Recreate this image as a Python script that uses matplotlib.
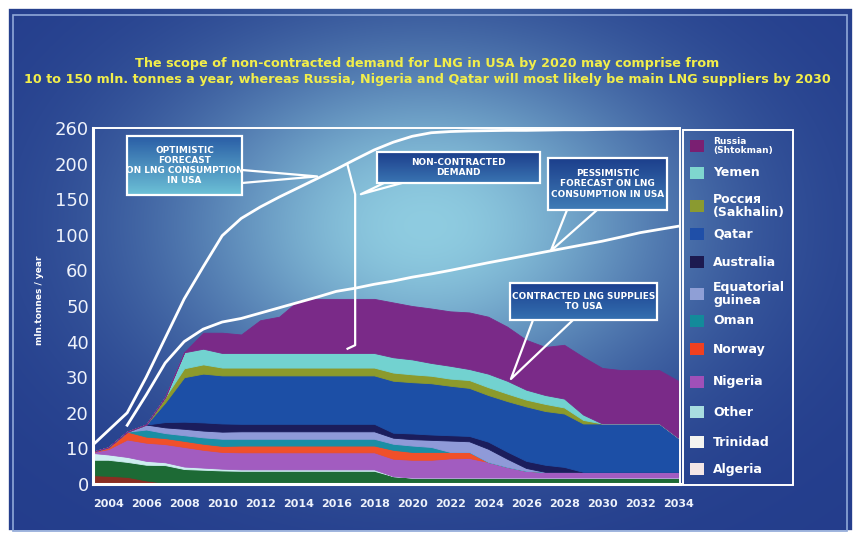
import numpy as np
import matplotlib
matplotlib.use("Agg")
import matplotlib.pyplot as plt
from matplotlib.patches import Rectangle
from matplotlib.colors import to_rgb

W, H = 860, 538

years = np.arange(2003, 2035)

# contracted LNG supplies to USA, mln tonnes / year, stacked bottom -> top
algeria   = [2.5, 2.3, 2.0, 1.0, 0.3, 0, 0, 0, 0, 0, 0, 0, 0, 0, 0, 0,
             0, 0, 0, 0, 0, 0, 0, 0, 0, 0, 0, 0, 0, 0, 0, 0]
trinidad  = [4.3, 4.5, 4.2, 4.4, 5.0, 4.2, 4.0, 3.8, 3.7, 3.7, 3.7, 3.7, 3.7, 3.7, 3.7, 3.7,
             2.2, 1.8, 1.8, 1.8, 1.8, 1.8, 1.8, 1.8, 1.8, 1.8, 1.8, 1.8, 1.8, 1.8, 1.8, 1.8]
other     = [2.0, 1.5, 1.4, 1.1, 0.8, 0.7, 0.6, 0.5, 0.4, 0.4, 0.4, 0.4, 0.4, 0.4, 0.4, 0.4,
             0, 0, 0, 0, 0, 0, 0, 0, 0, 0, 0, 0, 0, 0, 0, 0]
nigeria   = [0, 1.5, 4.9, 5.1, 5.1, 5.5, 5.0, 4.7, 4.8, 4.8, 4.8, 4.8, 4.8, 4.8, 4.8, 4.8,
             4.9, 5.0, 5.0, 5.4, 5.5, 4.4, 3.0, 1.9, 1.6, 1.6, 1.6, 1.6, 1.6, 1.6, 1.6, 1.6]
norway    = [0, 0.5, 2.2, 1.7, 1.7, 1.7, 1.7, 1.7, 1.9, 1.9, 1.9, 1.9, 1.9, 1.9, 1.9, 1.9,
             2.5, 2.2, 2.2, 1.8, 1.7, 0, 0, 0, 0, 0, 0, 0, 0, 0, 0, 0]
oman      = [0, 0, 0, 2.0, 1.4, 1.6, 1.8, 2.0, 1.9, 1.9, 1.9, 1.9, 1.9, 1.9, 1.9, 1.9,
             1.7, 1.8, 1.4, 0, 0, 0, 0, 0, 0, 0, 0, 0, 0, 0, 0, 0]
eq_guinea = [0, 0, 0, 1.4, 1.6, 1.8, 1.9, 2.0, 2.1, 2.1, 2.1, 2.1, 2.1, 2.1, 2.1, 2.1,
             1.7, 1.8, 2.0, 3.2, 3.0, 3.7, 2.3, 0.8, 0, 0, 0, 0, 0, 0, 0, 0]
australia = [0, 0, 0, 0, 1.5, 2.0, 2.3, 2.3, 2.1, 2.1, 2.1, 2.1, 2.1, 2.1, 2.1, 2.1,
             1.4, 1.6, 1.5, 1.5, 1.5, 2.0, 2.0, 2.0, 2.0, 1.4, 0, 0, 0, 0, 0, 0]
qatar     = [0, 0, 0, 0, 5.5, 12.5, 13.7, 13.5, 13.6, 13.6, 13.6, 13.6, 13.6, 13.6, 13.6, 13.6,
             14.6, 14.4, 14.4, 13.9, 13.5, 13.1, 14.2, 15.3, 15.1, 15.0, 13.6, 13.6, 13.6, 13.6, 13.6, 9.6]
sakhalin  = [0, 0, 0, 0, 1.5, 2.5, 2.6, 2.2, 2.2, 2.2, 2.2, 2.2, 2.2, 2.2, 2.2, 2.2,
             2.3, 2.2, 2.1, 2.0, 2.2, 2.2, 2.1, 1.9, 2.0, 1.7, 1.0, 0, 0, 0, 0, 0]
yemen     = [0, 0, 0, 0, 0, 4.5, 4.4, 4.1, 4.1, 4.1, 4.1, 4.1, 4.1, 4.1, 4.1, 4.1,
             4.3, 4.2, 3.6, 3.6, 3.1, 3.8, 3.6, 2.8, 2.5, 2.5, 1.5, 0, 0, 0, 0, 0]
shtokman  = [0, 0, 0, 0, 0, 0, 4.5, 5.7, 5.2, 9.2, 10.2, 14.7, 15.2, 15.2, 15.2, 15.2,
             15.4, 15.0, 15.3, 15.3, 15.9, 16.0, 15.2, 14.0, 13.5, 15.1, 16.2, 15.6, 15.0, 15.0, 15.0, 16.0]

# forecasts of LNG consumption in USA
optimistic  = [10, 15, 20, 30, 41, 52, 64, 99, 123, 139, 153, 166, 179, 192, 207, 223,
               236, 246, 252, 254, 255, 255.5, 256, 256, 256.5, 257, 257, 257.5, 258, 258, 258.5, 259]
pessimistic = [np.nan, np.nan, 16.5, 25, 34, 40, 43.5, 45.5, 46.5, 48, 49.5, 51, 52.5, 54.1, 55, 56.1,
               57, 58.1, 59, 60, 64.3, 68.6, 72.6, 76.7, 80.8, 84.8, 88.8, 92.8, 97.5, 103, 107.5, 112]

y_levels = [0, 10, 20, 30, 40, 50, 60, 100, 150, 200, 260]
x_ticks = list(range(2004, 2035, 2))

area_colors = ["#8a2e22", "#1d6a35", "#cdeef0", "#a25cc0", "#f0502a", "#1a8ea4",
               "#8f9ad8", "#1b1d5c", "#1c4fa6", "#8c9a2c", "#72d2d0", "#7a2a88"]

legend_labels = ["Russia\n(Shtokman)", "Yemen", "Россия\n(Sakhalin)", "Qatar", "Australia",
                 "Equatorial\nguinea", "Oman", "Norway", "Nigeria", "Other", "Trinidad", "Algeria"]
legend_colors = ["#7a1f72", "#7fd6cf", "#8a9a30", "#1f4fa8", "#1c1a50", "#8f9fd6",
                 "#138a9a", "#f04020", "#a050b8", "#a8dde0", "#f4f4f0", "#f4e6e6"]

title = ("The scope of non-contracted demand for LNG in USA by 2020 may comprise from\n"
         "10 to 150 mln. tonnes a year, whereas Russia, Nigeria and Qatar will most likely be main LNG suppliers by 2030")

fig = plt.figure(figsize=(W / 100, H / 100), dpi=100, facecolor="white")

# background with a light glow in the middle
bg = fig.add_axes([0, 0, 1, 1], zorder=0)
gx, gy = np.meshgrid(np.arange(W), np.arange(H))
t = np.exp(-(((gx - 425) / 290.0) ** 2 + ((gy - 225) / 200.0) ** 2) * 1.3)
dark = np.array([0.14, 0.24, 0.55])
light = np.array([0.56, 0.80, 0.88])
img = dark + (light - dark) * t[..., None]
bg.imshow(img, extent=(0, W, H, 0), aspect="auto")
bg.set_xlim(0, W)
bg.set_ylim(H, 0)
bg.axis("off")
bg.add_patch(Rectangle((0, 0), W, H, facecolor="none", edgecolor="white", lw=12))
bg.add_patch(Rectangle((13, 15), W - 26, H - 22, facecolor="none", edgecolor="#8fa8d8", lw=1.2))

# main chart, broken y scale: 0..60 linear, then 100/150/200/260 on the same spacing
lvl = np.array(y_levels, dtype=float)
pos = np.arange(len(lvl), dtype=float)


def fwd(v):
    return np.interp(v, lvl, pos)


def inv(p):
    return np.interp(p, pos, lvl)


ax = fig.add_axes([93 / W, 1 - 484 / H, 587 / W, 356 / H], zorder=1)
ax.patch.set_alpha(0)
ax.set_yscale("function", functions=(fwd, inv))

polys = ax.stackplot(years, algeria, trinidad, other, nigeria, norway, oman, eq_guinea,
                     australia, qatar, sakhalin, yemen, shtokman, colors=area_colors, lw=0.6)
for p, c in zip(polys, area_colors):
    p.set_edgecolor(c)

ax.plot(years, optimistic, color="white", lw=2)
ax.plot(years, pessimistic, color="white", lw=2)

ax.set_xlim(2003.2, 2034.1)
ax.set_ylim(0, 260)
ax.set_yticks(y_levels)
ax.set_yticklabels([str(v) for v in y_levels], color="#eef2fb", fontsize=13)
ax.set_xticks(x_ticks)
ax.set_xticklabels([str(v) for v in x_ticks], color="#eef2fb", fontsize=8, fontweight="bold")
ax.tick_params(axis="y", length=0, pad=3)
ax.tick_params(axis="x", length=0, pad=11)
ax.yaxis.set_minor_locator(matplotlib.ticker.NullLocator())
for side in ["left", "bottom"]:
    ax.spines[side].set_color("white")
    ax.spines[side].set_linewidth(2.2)
for side in ["top", "right"]:
    ax.spines[side].set_color("white")
    ax.spines[side].set_linewidth(1.4)

# overlay in picture pixels for callouts, legend and texts
ov = fig.add_axes([0, 0, 1, 1], zorder=3)
ov.axis("off")
ov.set_xlim(0, W)
ov.set_ylim(H, 0)


def to_px(x, y):
    return ov.transData.inverted().transform(ax.transData.transform((x, y)))


def callout(text, box, base, tip, top_col, bot_col):
    x0, y0, x1, y1 = box
    tx, ty = to_px(*tip)
    ov.plot([base[0][0], tx, base[1][0]], [base[0][1], ty, base[1][1]], color="white", lw=1.6)
    f = np.linspace(0, 1, 40)[:, None, None]
    grad = np.array(to_rgb(top_col)) * (1 - f) + np.array(to_rgb(bot_col)) * f
    ov.imshow(grad, extent=(x0, x1, y1, y0), aspect="auto", zorder=4)
    ov.add_patch(Rectangle((x0, y0), x1 - x0, y1 - y0, facecolor="none", edgecolor="white",
                           lw=1.6, zorder=5))
    ov.text((x0 + x1) / 2, (y0 + y1) / 2, text, ha="center", va="center", color="white",
            fontsize=6.4, fontweight="bold", linespacing=1.15, zorder=6)


# bracket for non-contracted demand
bx = [2016.6, 2017.0, 2017.0, 2016.6]
by = [198, 157, 39, 38]
pts = np.array([to_px(a, b) for a, b in zip(bx, by)])
ov.plot(pts[:, 0], pts[:, 1], color="white", lw=1.6)

callout("OPTIMISTIC\nFORECAST\nON LNG CONSUMPTION\nIN USA", (127, 136, 242, 195),
        [(242, 170), (242, 183)], (2015.0, 182), "#2a5ea6", "#6cc0d6")
callout("NON-CONTRACTED\nDEMAND", (377, 152, 540, 183),
        [(384, 183), (402, 183)], (2017.3, 157), "#1c3f8c", "#3a74b2")
callout("PESSIMISTIC\nFORECAST ON LNG\nCONSUMPTION IN USA", (548, 158, 667, 210),
        [(567, 210), (597, 210)], (2027.3, 82), "#1c3f8c", "#3f7cb6")
callout("CONTRACTED LNG SUPPLIES\nTO USA", (510, 283, 657, 320),
        [(533, 320), (573, 320)], (2025.2, 29.5), "#1c4090", "#3470b0")

# legend
ov.add_patch(Rectangle((683, 130), 110, 355, facecolor="none", edgecolor="white", lw=1.4))
leg_y = [146, 173, 206, 234, 262, 294, 321, 349, 382, 412, 442, 469]
for lab, col, yy in zip(legend_labels, legend_colors, leg_y):
    ov.add_patch(Rectangle((690, yy - 6), 14, 12, facecolor=col, edgecolor="none"))
    fs = 6.5 if lab.startswith("Russia") else 9
    ov.text(713, yy, lab, ha="left", va="center", color="white", fontsize=fs,
            fontweight="bold", linespacing=1.05)

ov.text(427, 72, title, ha="center", va="center", color="#f2ee4a", fontsize=9.2,
        fontweight="bold", linespacing=1.3)
ov.text(40, 300, "mln.tonnes / year", rotation=90, ha="center", va="center",
        color="white", fontsize=6.5, fontweight="bold")

ov.set_xlim(0, W)
ov.set_ylim(H, 0)

fig.savefig("out.png", dpi=100, facecolor="white")
